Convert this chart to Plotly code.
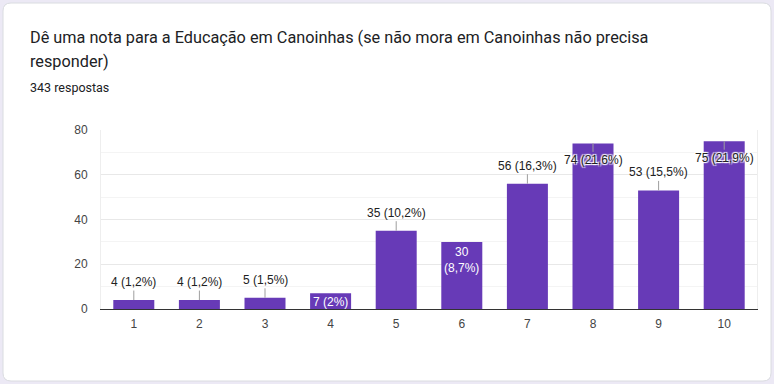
import plotly.graph_objects as go

# ---- data ----
categories = ["1", "2", "3", "4", "5", "6", "7", "8", "9", "10"]
counts = [4, 4, 5, 7, 35, 30, 56, 74, 53, 75]
percents = ["1,2%", "1,2%", "1,5%", "2%", "10,2%", "8,7%", "16,3%", "21,6%", "15,5%", "21,9%"]
y_ticks = [0, 20, 40, 60, 80]

title_line1 = "Dê uma nota para a Educação em Canoinhas (se não mora em Canoinhas não precisa"
title_line2 = "responder)"
subtitle = "343 respostas"

# ---- style ----
W, H = 774, 384
ML, MR, MT, MB = 101, 17, 130, 75
PW, PH = W - ML - MR, H - MT - MB
BAR = "#673ab7"
TXT = "#212121"
label_mode = ["above", "above", "above", "inside", "above", "inside2", "above", "overlap", "above", "overlap"]


def px(x):
    return (x - ML) / PW


def py(y):
    return (H - MB - y) / PH


pos = list(range(len(categories)))

fig = go.Figure(go.Bar(x=pos, y=counts, marker=dict(color=BAR, line=dict(width=0)),
                       hoverinfo="skip"))

halo = "1px 1px 1px #fff, -1px -1px 1px #fff, 1px -1px 1px #fff, -1px 1px 1px #fff"
ann = []
for i, v, p, m in zip(pos, counts, percents, label_mode):
    if m == "above":
        ann.append(dict(x=i, y=v, xref="x", yref="y", text=f"{v} ({p})", showarrow=True,
                        arrowhead=0, arrowwidth=1, arrowcolor="#9e9e9e", ax=0, ay=-18,
                        standoff=0, font=dict(family="Arial", size=12, color=TXT)))
    elif m == "overlap":
        ann.append(dict(x=i, y=v, xref="x", yref="y", text=f"{v} ({p})", showarrow=True,
                        arrowhead=0, arrowwidth=1, arrowcolor="#9e9e9e", ax=0, ay=17,
                        standoff=0, font=dict(family="Arial", size=12, color=TXT, shadow=halo)))
    elif m == "inside":
        ann.append(dict(x=i, y=v, xref="x", yref="y", text=f"{v} ({p})", showarrow=False,
                        yanchor="top", yshift=0,
                        font=dict(family="Arial", size=12, color="#ffffff")))
    else:
        ann.append(dict(x=i, y=v, xref="x", yref="y", text=f"{v}<br>({p})", showarrow=False,
                        yanchor="top", yshift=-1,
                        font=dict(family="Arial", size=12, color="#ffffff")))

ann += [
    dict(x=px(28), y=py(37), xref="paper", yref="paper", xanchor="left", yanchor="middle",
         text=title_line1, showarrow=False, font=dict(family="Roboto", size=16.25, color="#202124")),
    dict(x=px(28), y=py(62), xref="paper", yref="paper", xanchor="left", yanchor="middle",
         text=title_line2, showarrow=False, font=dict(family="Roboto", size=16.25, color="#202124")),
    dict(x=px(28), y=py(87), xref="paper", yref="paper", xanchor="left", yanchor="middle",
         text=subtitle, showarrow=False, font=dict(family="Roboto", size=12.5, color="#202124")),
]

# white rounded card
x0, x1, y0, y1, r = 3, 771, 3, 381, 8
path = (f"M {px(x0 + r)} {py(y0)} L {px(x1 - r)} {py(y0)} Q {px(x1)} {py(y0)} {px(x1)} {py(y0 + r)} "
        f"L {px(x1)} {py(y1 - r)} Q {px(x1)} {py(y1)} {px(x1 - r)} {py(y1)} "
        f"L {px(x0 + r)} {py(y1)} Q {px(x0)} {py(y1)} {px(x0)} {py(y1 - r)} "
        f"L {px(x0)} {py(y0 + r)} Q {px(x0)} {py(y0)} {px(x0 + r)} {py(y0)} Z")
shapes = [dict(type="path", path=path, xref="paper", yref="paper", layer="below",
               fillcolor="#ffffff", line=dict(color="#dadce0", width=1))]

fig.update_layout(
    width=W, height=H,
    margin=dict(l=ML, r=MR, t=MT, b=MB, pad=0),
    paper_bgcolor="#ece9f5", plot_bgcolor="rgba(0,0,0,0)",
    showlegend=False, bargap=0.375,
    annotations=ann, shapes=shapes,
    xaxis=dict(range=[-0.5, len(categories) - 0.5], tickvals=pos, ticktext=categories,
               showgrid=False, zeroline=False, showline=True, linecolor="#333333", linewidth=1,
               ticks="", tickfont=dict(family="Arial", size=12, color="#444444"),
               ticklabelstandoff=4, fixedrange=True),
    yaxis=dict(range=[0, 80], tickvals=y_ticks, showgrid=True, gridcolor="#e8e8e8", gridwidth=1,
               minor=dict(dtick=10, showgrid=True, gridcolor="#f4f4f4"),
               zeroline=False, showline=True, linecolor="#eeeeee", mirror=True,
               ticks="", ticklabelstandoff=10,
               tickfont=dict(family="Arial", size=12, color="#444444"), fixedrange=True),
)

fig.write_html("out.html", config={"displayModeBar": False},
               post_script="document.body.style.margin='0';document.body.style.background='#ece9f5';")
